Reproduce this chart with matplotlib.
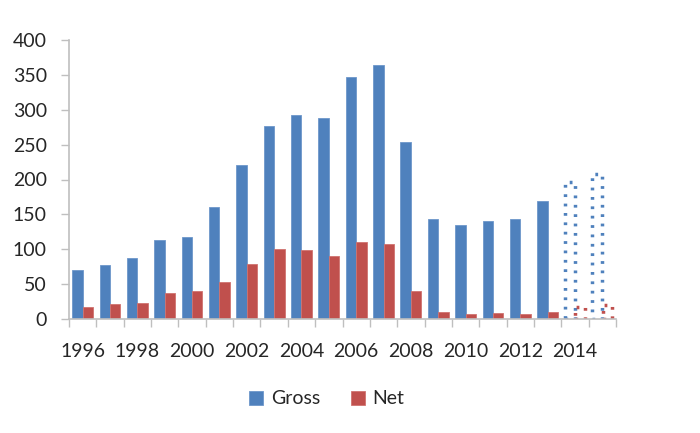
import matplotlib
matplotlib.use('Agg')
import matplotlib.pyplot as plt
import numpy as np

years = list(range(1996, 2016))
gross = [71, 77, 88, 114, 118, 160, 221, 277, 292, 288,
         346, 364, 253, 143, 135, 141, 143, 169, 196, 208]
net   = [18, 22, 24, 37, 40, 53, 79, 101, 99, 90,
         111, 108, 40, 11, 7, 9, 7, 10, 18, 20]
forecast_years = [2014, 2015]

BLUE = "#4F81BD"
RED  = "#C0504D"
AXIS = "#BFBFBF"
TEXT = "#262626"

plt.rcParams['font.family'] = ['Lato', 'DejaVu Sans']

fig = plt.figure(figsize=(7, 4.33), dpi=100)
ax = fig.add_axes([69/700, 1 - 319.3/433, (616 - 69)/700, (319.3 - 39.7)/433])

x = np.arange(len(years))
w = 0.38
is_fc = np.array([y in forecast_years for y in years])

# actual years: solid bars
ax.bar(x[~is_fc] - w/2, np.array(gross)[~is_fc], w, color=BLUE,
       edgecolor="#6D97CB", lw=0.6, label="Gross")
ax.bar(x[~is_fc] + w/2, np.array(net)[~is_fc], w, color=RED,
       edgecolor="#D07370", lw=0.6, label="Net")

# forecast years: dotted outlines
ax.bar(x[is_fc] - w/2, np.array(gross)[is_fc], w * 0.92, facecolor='none',
       edgecolor=BLUE, lw=2.5, linestyle=(0, (0.8, 1.9)))
ax.bar(x[is_fc] + w/2, np.array(net)[is_fc], w * 0.92, facecolor='none',
       edgecolor=RED, lw=2.5, linestyle=(0, (0.8, 1.9)))

ax.set_xlim(-0.5, len(years) - 0.5)
ax.set_ylim(0, 400)
ax.set_yticks(np.arange(0, 401, 50))

ax.set_xticks(x[::2])
ax.set_xticklabels([str(y) for y in years[::2]])
ax.set_xticks(np.arange(-0.5, len(years)), minor=True)
ax.tick_params(axis='x', which='major', length=0, pad=17,
               labelsize=14, labelcolor=TEXT)
ax.tick_params(axis='x', which='minor', length=6, width=1, color=AXIS)
ax.tick_params(axis='y', length=6, width=1, color=AXIS, pad=10,
               labelsize=14, labelcolor=TEXT)

for s in ['top', 'right']:
    ax.spines[s].set_visible(False)
for s in ['left', 'bottom']:
    ax.spines[s].set_color(AXIS)
    ax.spines[s].set_linewidth(1.2)

fig.legend(loc='center', bbox_to_anchor=(327/700, 1 - 399/433), ncol=2,
           frameon=False, fontsize=14, handlelength=0.7, handleheight=0.7,
           handletextpad=0.4, columnspacing=1.6, labelcolor=TEXT)

fig.savefig("out.png", dpi=100, facecolor='white')
